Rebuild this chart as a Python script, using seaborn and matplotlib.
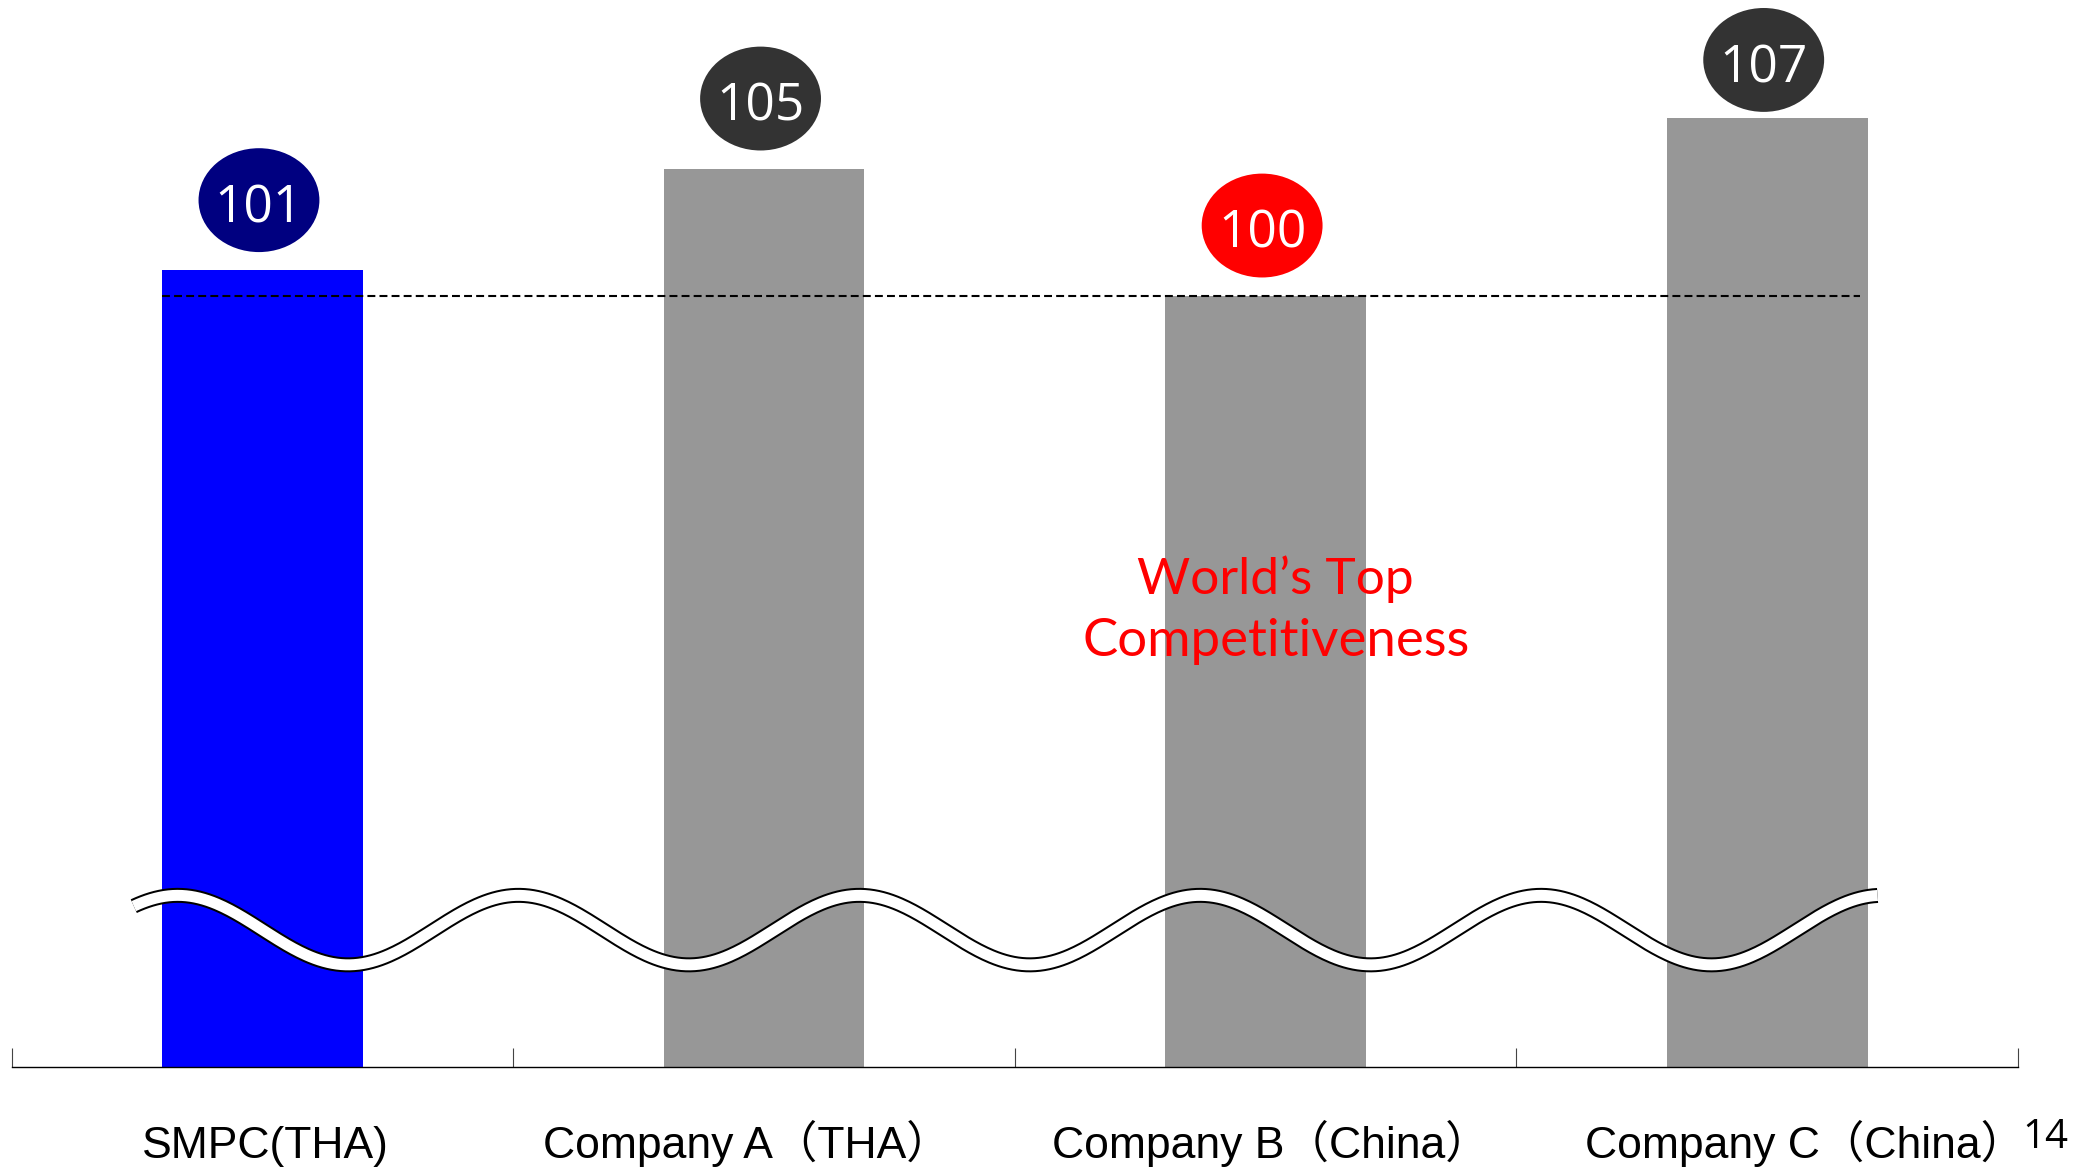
import numpy as np
import pandas as pd
import matplotlib
matplotlib.use("Agg")
import matplotlib.pyplot as plt
from matplotlib.patches import Ellipse
import seaborn as sns

# ---------------- data ----------------
categories = ["SMPC(THA)", "Company A（THA）", "Company B（China）", "Company C（China）"]
values = [101, 105, 100, 107]
bar_colors = ["#0000FF", "#979797", "#979797", "#979797"]
badge_colors = ["#000080", "#333333", "#FF0000", "#333333"]
reference_value = 100
note_lines = ["World’s Top", "Competitiveness"]
page_number = "14"

# ---------------- layout constants ----------------
W, H = 2096, 1173
Y_MIN, Y_MAX = 69.63, 111.64
label_shift = [0.005, -0.035, 0.01, 0.075]

sns.set_style("white")
plt.rcParams["font.family"] = ["Liberation Sans", "Noto Sans CJK SC", "DejaVu Sans"]

fig = plt.figure(figsize=(W / 100, H / 100), dpi=100)
ax = fig.add_axes([11.7 / W, 106 / H, (2018 - 11.7) / W, 1067 / H])

df = pd.DataFrame({"company": categories, "value": values})
sns.barplot(data=df, x="company", y="value", hue="company", palette=bar_colors,
            saturation=1, width=0.4, linewidth=0, legend=False, ax=ax, zorder=2)

ax.set_xlim(-0.5, 3.5)
ax.set_ylim(Y_MIN, Y_MAX)
for s in ["left", "top", "right"]:
    ax.spines[s].set_visible(False)
ax.spines["bottom"].set_color("black")
ax.spines["bottom"].set_linewidth(1.0)
ax.set_yticks([])
ax.set_xticks([])
ax.set_xticks(np.arange(-0.5, len(categories)), minor=True)
ax.tick_params(axis="x", which="minor", bottom=True, direction="in",
               length=13.7, width=0.8, color="#444444")
ax.set_xlabel("")
ax.set_ylabel("")

# reference dashed line
ax.hlines(reference_value, -0.2, 3.185, colors="black", linewidth=1.5,
          linestyles=(0, (3.8, 2.0)), zorder=3)

# value badges
for i, v in enumerate(values):
    yc = min(v + 2.76, Y_MAX - 2.36)
    ax.add_patch(Ellipse((i - 0.007, yc), 0.241, 4.09, facecolor=badge_colors[i],
                         edgecolor="none", zorder=4, clip_on=False))
    ax.text(i - 0.007, yc - 0.87, f"{v}", ha="center", va="baseline",
            fontsize=37, color="white", family="Open Sans", zorder=5)

# red annotation
ax.text(2.02, 88.25, note_lines[0], ha="center", va="baseline", fontsize=37,
        color="#FF0000", family="Lato", zorder=5)
ax.text(2.02, 85.81, note_lines[1], ha="center", va="baseline", fontsize=38,
        color="#FF0000", family="Lato", zorder=5)

# axis-break wave (decoration)
xs = np.linspace(-0.2566, 3.22, 800)
ys = 75.02 + 1.368 * np.cos(2 * np.pi * (xs + 0.169) / 0.6795)
ax.plot(xs, ys, color="black", lw=10.8, solid_capstyle="butt", zorder=6, clip_on=False)
ax.plot(xs, ys, color="white", lw=7.9, solid_capstyle="butt", zorder=7, clip_on=False)

# category labels
for i, c in enumerate(categories):
    ax.text(i + label_shift[i], -91 / 1067, c, transform=ax.get_xaxis_transform(),
            ha="center", va="baseline", fontsize=32, color="black",
            family=["Liberation Sans", "Noto Sans CJK SC"], clip_on=False)

# page number
fig.text(2022 / W, (H - 1148) / H, page_number, ha="left", va="baseline",
         fontsize=29, color="black", family="Open Sans")

fig.savefig("out.png", dpi=100)
